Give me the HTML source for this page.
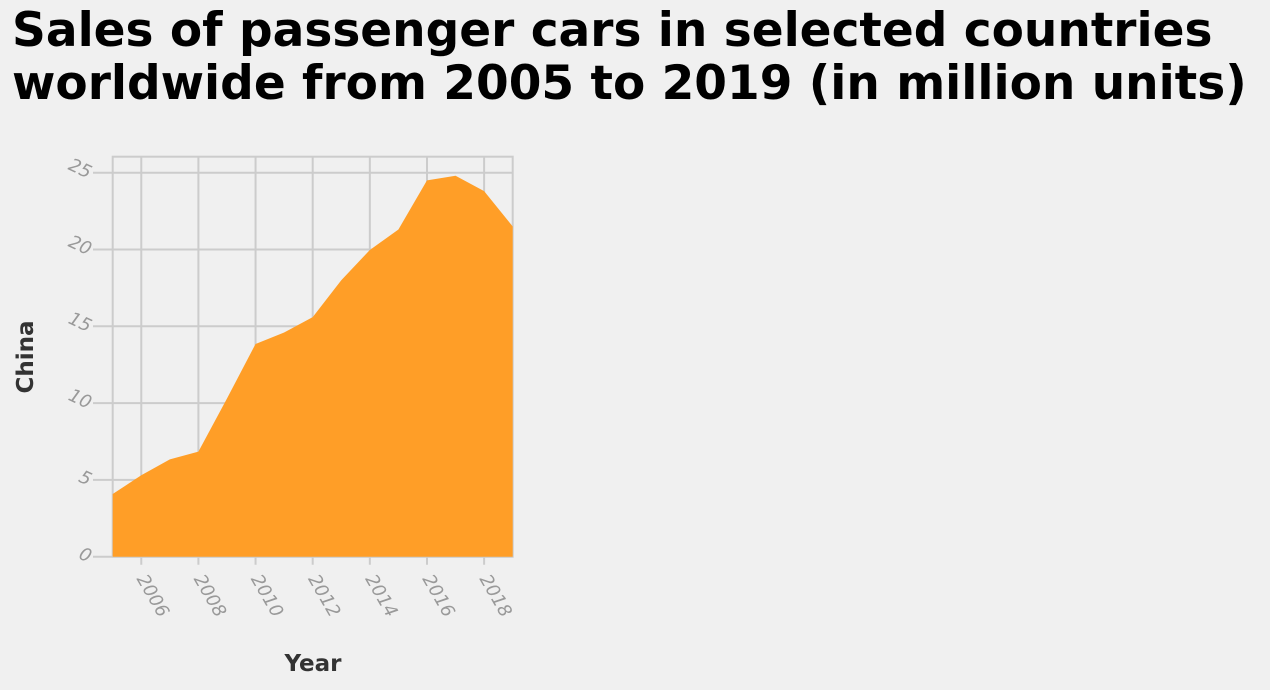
<!DOCTYPE html>
<html><head><meta charset="utf-8"><style>
html,body{margin:0;padding:0;background:#f0f0f0;}
body{width:1270px;height:690px;overflow:hidden;font-family:"DejaVu Sans","Liberation Sans",sans-serif;}
h1{position:absolute;left:12px;top:4px;margin:0;font-size:47px;line-height:53px;font-weight:bold;color:#000;white-space:nowrap;font-family:"DejaVu Sans",sans-serif;}
</style></head><body>
<h1>Sales of passenger cars in selected countries<br>worldwide from 2005 to 2019 (in million units)</h1>
<svg id="chart" width="1270" height="690" style="position:absolute;left:0;top:0">
<text x="0" y="0" transform="translate(33,357) rotate(-90)" text-anchor="middle" font-size="23" font-weight="bold" fill="#333" font-family="DejaVu Sans, sans-serif">China</text>
<text x="313" y="671" text-anchor="middle" font-size="23" font-weight="bold" fill="#333" font-family="DejaVu Sans, sans-serif">Year</text>
</svg>
<script>
const years=[2005,2006,2007,2008,2009,2010,2011,2012,2013,2014,2015,2016,2017,2018,2019];
const sales=[4.08,5.3,6.34,6.84,10.3,13.85,14.6,15.6,18.0,19.97,21.3,24.5,24.8,23.8,21.5];
const yTicks=[0,5,10,15,20,25];
const xTicks=[2006,2008,2010,2012,2014,2016,2018];
const NS="http://www.w3.org/2000/svg";
const svg=document.getElementById('chart');
const L=112.7,R=512.7,T=156.7,B=556.7;
const x=v=>L+(v-2005)/(2019-2005)*(R-L);
const y=v=>B-v/25*(B-172.7);
const g=document.createElementNS(NS,'g');svg.appendChild(g);
function add(t,a){const e=document.createElementNS(NS,t);for(const k in a)e.setAttribute(k,a[k]);g.appendChild(e);return e;}
let f=add('rect',{x:L,y:T,width:R-L,height:B-T,fill:'none',stroke:'#ccc','stroke-width':2});


yTicks.forEach(v=>{
 let l=add('line',{x1:93,x2:R,y1:y(v),y2:y(v),stroke:'#ccc','stroke-width':2});
 
 
 let t=add('text',{x:0,y:0,transform:`translate(88,${y(v)+6}) rotate(25)`,'text-anchor':'end','font-size':18,'font-style':'italic',fill:'#999','font-family':'DejaVu Sans, sans-serif'});
 t.textContent=v;
 
 
});
xTicks.forEach(v=>{
 let l=add('line',{x1:x(v),x2:x(v),y1:T,y2:B+8,stroke:'#ccc','stroke-width':2});
 
 
 let t=add('text',{x:0,y:0,transform:`translate(${x(v)-5},${B+22}) rotate(60)`,'font-size':18,'font-style':'italic',fill:'#999','font-family':'DejaVu Sans, sans-serif'});
 t.textContent=v;
 
 
});
let d='M'+x(years[0])+','+B;
years.forEach((yr,i)=>{d+=' L'+x(yr)+','+y(sales[i]);});
d+=' L'+x(years[years.length-1])+','+B+' Z';
let a=add('path',{d:d,fill:'#ff9e27'});


</script>
</body></html>
